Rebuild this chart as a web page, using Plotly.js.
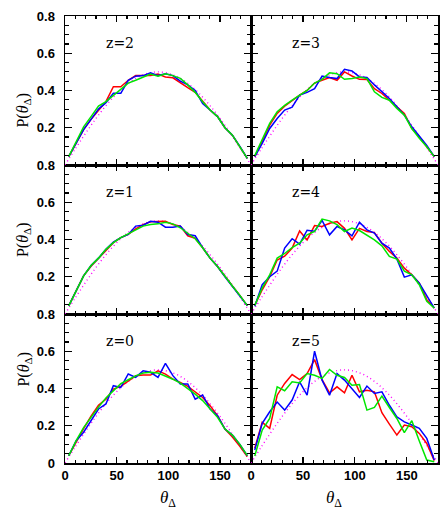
<!DOCTYPE html>
<html>
<head>
<meta charset="utf-8">
<script src="https://cdn.plot.ly/plotly-3.0.1.min.js"></script>
<style>
  html, body { margin: 0; padding: 0; background: #fff; }
  #chart { width: 444px; height: 512px; }
</style>
</head>
<body>
<div id="chart"></div>
<script>
// bin centres (deg)
const thetaBins = [3.6, 10.8, 18, 25.2, 32.4, 39.6, 46.8, 54, 61.2, 68.4, 75.6, 82.8, 90,
    97.2, 104.4, 111.6, 118.8, 126, 133.2, 140.4, 147.6, 154.8, 162, 169.2, 176.4];

// dotted reference curve
const refTheta = [0, 10, 20, 30, 40, 50, 60, 70, 80, 90, 100, 110, 120, 130, 140, 150, 160, 170, 180];
const refP = [0, 0.087, 0.171, 0.25, 0.321, 0.383, 0.433, 0.47, 0.492, 0.5, 0.492, 0.47, 0.433,
    0.383, 0.321, 0.25, 0.171, 0.087, 0];

const z0Red = [0.039, 0.113, 0.184, 0.252, 0.31, 0.343, 0.397, 0.411, 0.441, 0.468, 0.472, 0.472, 0.495,
    0.477, 0.45, 0.433, 0.411, 0.379, 0.352, 0.308, 0.254, 0.182, 0.14, 0.09, 0.035];
const z0Blue = [0.039, 0.12, 0.165, 0.227, 0.29, 0.317, 0.415, 0.406, 0.478, 0.46, 0.495, 0.487, 0.46,
    0.535, 0.469, 0.424, 0.424, 0.343, 0.365, 0.29, 0.254, 0.182, 0.15, 0.1, 0.04];
const z0Green = [0.039, 0.12, 0.19, 0.246, 0.3, 0.349, 0.39, 0.426, 0.447, 0.468, 0.483, 0.487, 0.483,
    0.468, 0.45, 0.429, 0.4, 0.37, 0.335, 0.29, 0.245, 0.182, 0.15, 0.1, 0.04];

const z1Red = [0.044, 0.125, 0.205, 0.256, 0.3, 0.338, 0.383, 0.41, 0.427, 0.457, 0.48, 0.495, 0.498,
    0.498, 0.48, 0.472, 0.42, 0.407, 0.356, 0.3, 0.255, 0.2, 0.15, 0.1, 0.045];
const z1Blue = [0.044, 0.125, 0.205, 0.26, 0.3, 0.347, 0.386, 0.41, 0.427, 0.472, 0.477, 0.498, 0.493,
    0.466, 0.466, 0.472, 0.427, 0.42, 0.356, 0.3, 0.255, 0.2, 0.15, 0.1, 0.045];
const z1Green = [0.044, 0.125, 0.205, 0.26, 0.3, 0.347, 0.383, 0.41, 0.432, 0.454, 0.472, 0.48, 0.484,
    0.493, 0.484, 0.463, 0.432, 0.404, 0.356, 0.3, 0.255, 0.2, 0.15, 0.1, 0.045];

const z2Red = [0.045, 0.12, 0.19, 0.245, 0.295, 0.34, 0.42, 0.42, 0.455, 0.48, 0.48, 0.48, 0.488,
    0.473, 0.468, 0.44, 0.415, 0.39, 0.34, 0.295, 0.26, 0.2, 0.16, 0.1, 0.036];
const z2Blue = [0.045, 0.12, 0.19, 0.245, 0.3, 0.335, 0.385, 0.385, 0.455, 0.477, 0.48, 0.495, 0.48,
    0.49, 0.48, 0.45, 0.43, 0.4, 0.33, 0.295, 0.26, 0.2, 0.16, 0.1, 0.036];
const z2Green = [0.045, 0.125, 0.205, 0.26, 0.316, 0.34, 0.375, 0.41, 0.44, 0.455, 0.47, 0.488, 0.477,
    0.49, 0.48, 0.465, 0.43, 0.39, 0.34, 0.295, 0.26, 0.2, 0.16, 0.1, 0.036];

const z3Red = [0.045, 0.125, 0.214, 0.277, 0.316, 0.348, 0.375, 0.4, 0.44, 0.455, 0.47, 0.455, 0.5,
    0.478, 0.46, 0.459, 0.41, 0.384, 0.348, 0.316, 0.277, 0.196, 0.152, 0.098, 0.045];
const z3Blue = [0.045, 0.116, 0.196, 0.25, 0.295, 0.31, 0.375, 0.39, 0.41, 0.477, 0.47, 0.464, 0.514,
    0.505, 0.473, 0.47, 0.43, 0.393, 0.357, 0.313, 0.268, 0.205, 0.152, 0.105, 0.045];
const z3Green = [0.05, 0.134, 0.223, 0.286, 0.32, 0.348, 0.375, 0.4, 0.44, 0.46, 0.495, 0.49, 0.46,
    0.464, 0.473, 0.464, 0.393, 0.363, 0.348, 0.304, 0.268, 0.196, 0.143, 0.098, 0.045];

const z4Red = [0.046, 0.13, 0.2, 0.29, 0.31, 0.354, 0.446, 0.398, 0.475, 0.47, 0.487, 0.496, 0.46,
    0.398, 0.46, 0.443, 0.437, 0.38, 0.336, 0.3, 0.246, 0.21, 0.166, 0.077, 0.032];
const z4Blue = [0.041, 0.157, 0.2, 0.23, 0.354, 0.404, 0.375, 0.45, 0.445, 0.502, 0.425, 0.47, 0.452,
    0.42, 0.493, 0.452, 0.434, 0.38, 0.354, 0.296, 0.198, 0.21, 0.166, 0.095, 0.032];
const z4Green = [0.046, 0.14, 0.21, 0.3, 0.325, 0.357, 0.38, 0.425, 0.443, 0.51, 0.5, 0.48, 0.443,
    0.461, 0.448, 0.425, 0.398, 0.366, 0.309, 0.295, 0.23, 0.21, 0.157, 0.068, 0.032];

const z5Red = [0.079, 0.218, 0.186, 0.364, 0.427, 0.475, 0.448, 0.48, 0.555, 0.448, 0.377, 0.409, 0.377,
    0.471, 0.382, 0.391, 0.382, 0.27, 0.209, 0.15, 0.204, 0.195, 0.159, 0.105, 0.013];
const z5Blue = [0.07, 0.213, 0.275, 0.327, 0.284, 0.338, 0.436, 0.364, 0.6, 0.445, 0.364, 0.48, 0.445,
    0.4, 0.352, 0.413, 0.373, 0.382, 0.31, 0.248, 0.221, 0.204, 0.186, 0.132, 0.016];
const z5Green = [0.038, 0.177, 0.239, 0.409, 0.388, 0.436, 0.43, 0.48, 0.471, 0.454, 0.502, 0.471, 0.459,
    0.418, 0.421, 0.284, 0.298, 0.359, 0.298, 0.239, 0.163, 0.227, 0.118, 0.016, 0.007];

// panel order: bottom-left, bottom-right, middle-left, middle-right, top-left, top-right
const panelLabels = ['z=0', 'z=5', 'z=1', 'z=4', 'z=2', 'z=3'];
const panelData = [
    [z0Red, z0Blue, z0Green],
    [z5Red, z5Blue, z5Green],
    [z1Red, z1Blue, z1Green],
    [z4Red, z4Blue, z4Green],
    [z2Red, z2Blue, z2Green],
    [z3Red, z3Blue, z3Green]
];
const lineColors = ['#ff0000', '#0000ff', '#00e600'];

const xTickVals = [0, 50, 100, 150];
const yTickValsBottom = [0, 0.2, 0.4, 0.6, 0.8];
const yTickValsUpper = [0.2, 0.4, 0.6, 0.8];

const tickFont = { family: 'Liberation Sans, Arial, sans-serif', size: 13, color: '#000', weight: 'bold' };
const serif = 'Liberation Serif, Times New Roman, serif';

const traces = [];
const layout = {
    width: 444,
    height: 512,
    margin: { l: 65, r: 6, t: 16, b: 49 },
    paper_bgcolor: '#fff',
    plot_bgcolor: '#fff',
    showlegend: false,
    annotations: []
};

const xSplit = 186 / 373;

panelData.forEach((series, i) => {
    const n = i + 1;
    const ax = n === 1 ? '' : String(n);
    const col = i % 2;
    const row = Math.floor(i / 2);

    traces.push({
        x: refTheta, y: refP, xaxis: 'x' + ax, yaxis: 'y' + ax,
        mode: 'lines', hoverinfo: 'skip',
        line: { color: '#ff00ff', width: 1.4, dash: '1px,3px', shape: 'spline' }
    });
    series.forEach((vals, j) => {
        traces.push({
            x: thetaBins, y: vals, xaxis: 'x' + ax, yaxis: 'y' + ax,
            mode: 'lines', line: { color: lineColors[j], width: 1.5 }
        });
    });

    layout['xaxis' + ax] = {
        domain: col === 0 ? [0, xSplit] : [xSplit, 1],
        anchor: 'y' + ax,
        range: [0, 180],
        tickvals: xTickVals,
        showticklabels: row === 0,
        ticks: 'inside', ticklen: 6, tickwidth: 1.2, tickcolor: '#000',
        minor: { dtick: 10, tick0: 0, ticks: 'inside', ticklen: 3, tickwidth: 1.2, tickcolor: '#000' },
        showline: true, linecolor: '#000', linewidth: 1.5, mirror: 'allticks',
        showgrid: false, zeroline: false,
        tickfont: tickFont
    };
    layout['yaxis' + ax] = {
        domain: [row / 3, (row + 1) / 3],
        anchor: 'x' + ax,
        range: [0, 0.8],
        tickvals: row === 0 ? yTickValsBottom : yTickValsUpper,
        tickformat: '.1f',
        showticklabels: col === 0,
        ticklabelstandoff: 6,
        ticks: 'inside', ticklen: 7, tickwidth: 1.2, tickcolor: '#000',
        minor: { dtick: 0.05, tick0: 0, ticks: 'inside', ticklen: 4, tickwidth: 1.2, tickcolor: '#000' },
        showline: true, linecolor: '#000', linewidth: 1.5, mirror: 'allticks',
        showgrid: false, zeroline: false,
        tickfont: tickFont
    };
    if (row === 0) {
        layout['yaxis' + ax].ticktext = ['0', '0.2', '0.4', '0.6', '0.8'];
    }

    layout.annotations.push({
        xref: 'x' + ax, yref: 'y' + ax, x: 53, y: 0.656,
        text: panelLabels[i], showarrow: false,
        font: { family: 'DejaVu Serif, serif', size: 14, color: '#000' }
    });

    if (col === 0) {
        layout.annotations.push({
            xref: 'paper', yref: 'paper', x: -0.142, y: (row + 0.5) / 3,
            text: 'P(<i>θ</i><sub>Δ</sub>)', textangle: -90, showarrow: false,
            font: { family: serif, size: 16, color: '#000' }
        });
    }
    if (row === 0) {
        layout.annotations.push({
            xref: 'paper', yref: 'paper', x: col === 0 ? 0.249 : 0.749, y: -0.08,
            yanchor: 'middle',
            text: '<i>θ</i><sub>Δ</sub>', showarrow: false,
            font: { family: serif, size: 17, color: '#000' }
        });
    }
});

Plotly.newPlot('chart', traces, layout, { displayModeBar: false, staticPlot: true });
</script>
</body>
</html>
